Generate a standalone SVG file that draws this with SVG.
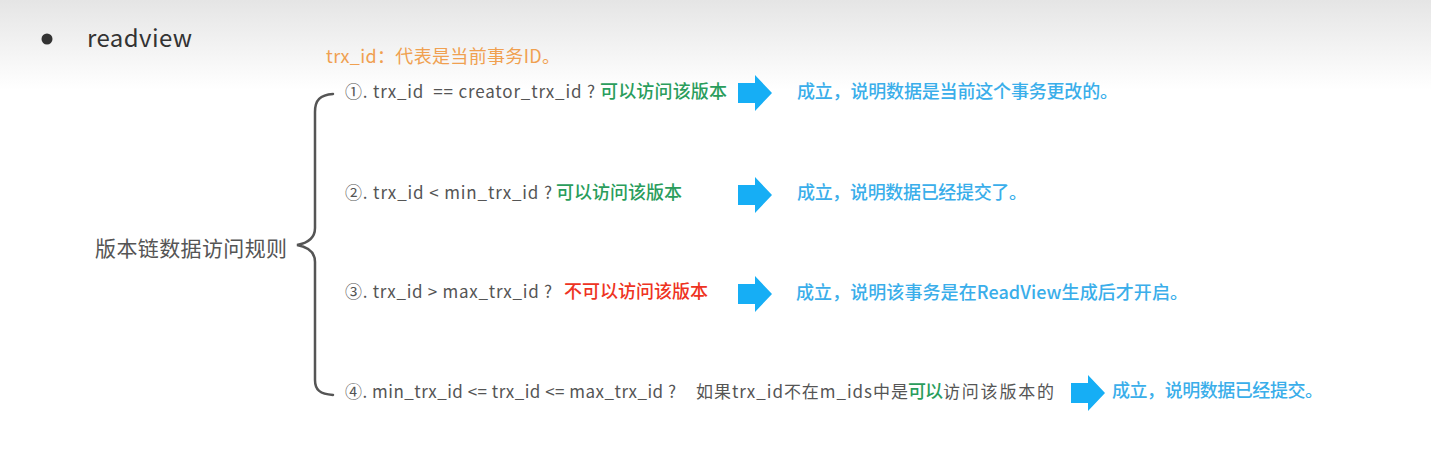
<svg xmlns="http://www.w3.org/2000/svg" width="1431" height="458" viewBox="0 0 1431 458">
<defs>
<linearGradient id="bg" x1="0" y1="0" x2="0" y2="1">
<stop offset="0" stop-color="#e5e5e5"/>
<stop offset="1" stop-color="#ffffff"/>
</linearGradient>
<path id="arrow" d="M0,-10 L17,-10 L17,-18 L34,0 L17,18 L17,10 L0,10 Z"/>
</defs>
<style>
text{font-family:"Noto Sans CJK SC","Noto Sans",sans-serif;white-space:pre}
.g{fill:#555555;font-size:17px}
.ok{fill:#2a9d5c;font-size:18px;font-weight:500}
.no{fill:#ee3322;font-size:18px;font-weight:500}
.b{fill:#3aaeea;font-size:18px;font-weight:500}
.arr{fill:#16aef5}
</style>
<rect x="0" y="0" width="1431" height="458" fill="#ffffff"/>
<rect x="0" y="0" width="1431" height="90" fill="url(#bg)"/>
<g id="title">
<circle cx="47" cy="39" r="5.5" fill="#333333"/>
<text x="87" y="47" style="font-size:24px;fill:#333333" textLength="105">readview</text>
</g>
<g id="note">
<text x="326" y="63" style="font-size:18px;fill:#f0a050" textLength="234">trx_id：代表是当前事务ID。</text>
</g>
<g id="root">
<text x="95" y="256" style="font-size:21px;fill:#555555" textLength="192">版本链数据访问规则</text>
</g>
<g id="connectors">
<path d="M333,94 C320,95 315,100 315,112 L315,228 C315,238 308,243 297,245 C308,247 315,252 315,262 L315,380 C315,390 320,394 333,395" fill="none" stroke="#555555" stroke-width="2.5" stroke-linecap="round"/>
<use href="#arrow" class="arr" x="738" y="93"/>
<use href="#arrow" class="arr" x="738" y="195"/>
<use href="#arrow" class="arr" x="738" y="294"/>
<use href="#arrow" class="arr" x="1071" y="393"/>
</g>
<g id="rule1">
<text y="98"><tspan class="g" x="345" textLength="250">①. trx_id  == creator_trx_id ?</tspan><tspan class="ok" x="600" textLength="127">可以访问该版本</tspan></text>
</g>
<g id="result1">
<text class="b" x="797" y="98" textLength="321">成立，说明数据是当前这个事务更改的。</text>
</g>
<g id="rule2">
<text y="199"><tspan class="g" x="345" textLength="207">②. trx_id &lt; min_trx_id ?</tspan><tspan class="ok" x="556" textLength="126">可以访问该版本</tspan></text>
</g>
<g id="result2">
<text class="b" x="797" y="199" textLength="230">成立，说明数据已经提交了。</text>
</g>
<g id="rule3">
<text y="298"><tspan class="g" x="345" textLength="207">③. trx_id &gt; max_trx_id ?</tspan><tspan class="no" x="564" textLength="144">不可以访问该版本</tspan></text>
</g>
<g id="result3">
<text class="b" x="796" y="299" textLength="392">成立，说明该事务是在ReadView生成后才开启。</text>
</g>
<g id="rule4">
<text y="398"><tspan class="g" x="345" textLength="331">④. min_trx_id &lt;= trx_id &lt;= max_trx_id ?</tspan><tspan class="g" x="696" textLength="212">如果trx_id不在m_ids中是</tspan><tspan class="ok" x="908" textLength="35">可以</tspan><tspan class="g" x="943" textLength="111">访问该版本的</tspan></text>
</g>
<g id="result4">
<text class="b" x="1112" y="397" textLength="211">成立，说明数据已经提交。</text>
</g>
</svg>
